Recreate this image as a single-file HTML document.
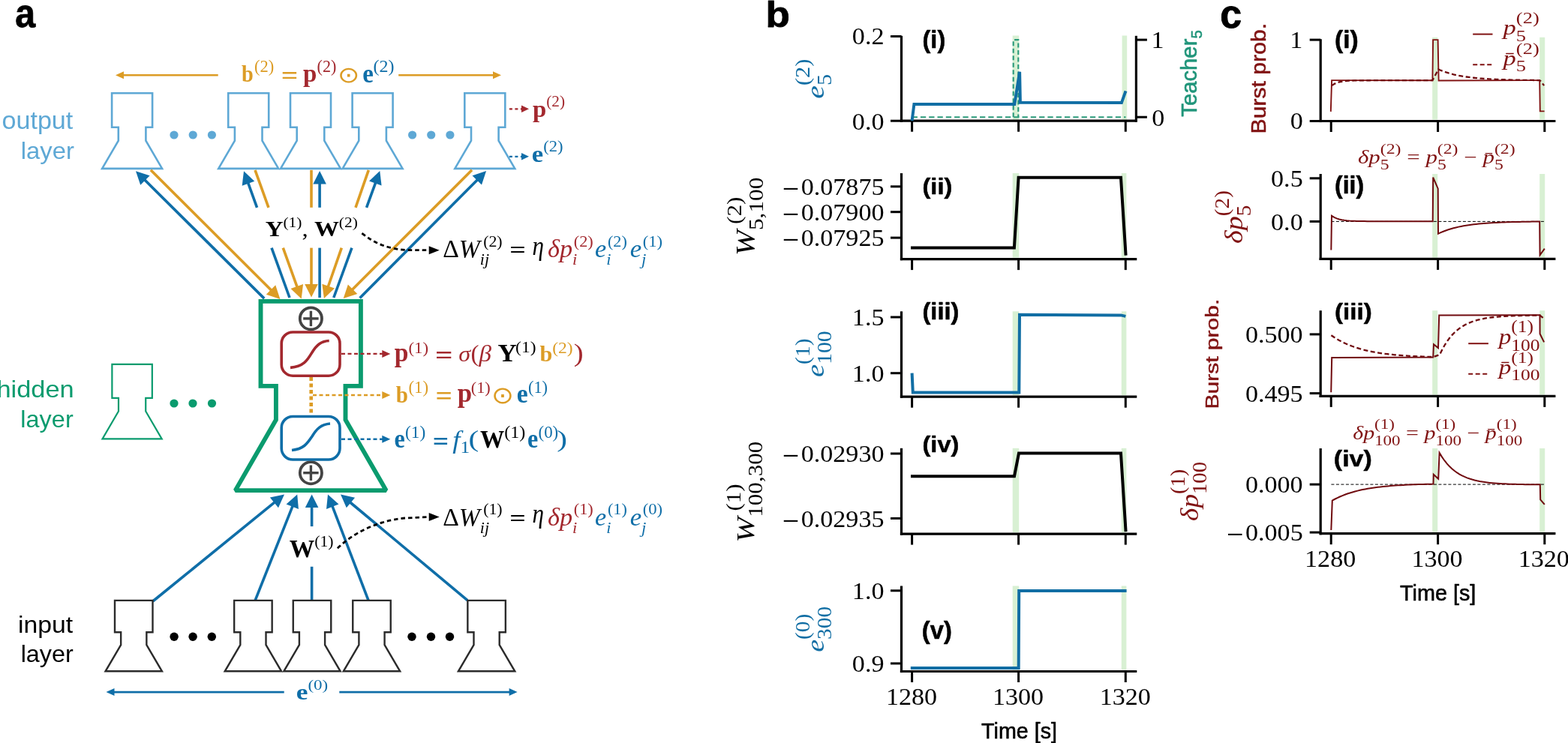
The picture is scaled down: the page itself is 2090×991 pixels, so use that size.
<!DOCTYPE html><html><head><meta charset="utf-8"><title>Figure</title><style>html,body{margin:0;padding:0;background:#fff;overflow:hidden}svg{display:block}</style></head><body><svg width="2090" height="991" viewBox="0 0 2090 991"><rect width="2090" height="991" fill="#fff"/><line x1="290.7" y1="100.2" x2="163" y2="100.2" stroke="#DC9C25" stroke-width="2.6"/><path d="M154.00,100.20 L165.00,95.20 L165.00,105.20 Z" fill="#DC9C25"/><line x1="531.2" y1="100.3" x2="659" y2="100.3" stroke="#DC9C25" stroke-width="2.6"/><path d="M668.00,100.30 L657.00,105.30 L657.00,95.30 Z" fill="#DC9C25"/><path d="M149.10,124.30 L203.10,124.30 L203.10,169.80 L194.40,169.80 L194.40,187.60 L216.10,224.90 L136.10,224.90 L157.80,187.60 L157.80,169.80 L149.10,169.80 Z" fill="none" stroke="#5EA8D5" stroke-width="2.6" stroke-linejoin="miter" stroke-miterlimit="4"/><path d="M304.20,124.30 L358.20,124.30 L358.20,169.80 L349.50,169.80 L349.50,187.60 L371.20,224.90 L291.20,224.90 L312.90,187.60 L312.90,169.80 L304.20,169.80 Z" fill="none" stroke="#5EA8D5" stroke-width="2.6" stroke-linejoin="miter" stroke-miterlimit="4"/><path d="M387.00,124.30 L441.00,124.30 L441.00,169.80 L432.30,169.80 L432.30,187.60 L454.00,224.90 L374.00,224.90 L395.70,187.60 L395.70,169.80 L387.00,169.80 Z" fill="none" stroke="#5EA8D5" stroke-width="2.6" stroke-linejoin="miter" stroke-miterlimit="4"/><path d="M469.60,124.30 L523.60,124.30 L523.60,169.80 L514.90,169.80 L514.90,187.60 L536.60,224.90 L456.60,224.90 L478.30,187.60 L478.30,169.80 L469.60,169.80 Z" fill="none" stroke="#5EA8D5" stroke-width="2.6" stroke-linejoin="miter" stroke-miterlimit="4"/><path d="M619.30,124.30 L673.30,124.30 L673.30,169.80 L664.60,169.80 L664.60,187.60 L686.30,224.90 L606.30,224.90 L628.00,187.60 L628.00,169.80 L619.30,169.80 Z" fill="none" stroke="#5EA8D5" stroke-width="2.6" stroke-linejoin="miter" stroke-miterlimit="4"/><circle cx="232" cy="180" r="5.6" fill="#5EA8D5"/><circle cx="257.2" cy="180" r="5.6" fill="#5EA8D5"/><circle cx="282.4" cy="180" r="5.6" fill="#5EA8D5"/><circle cx="549.6" cy="180" r="5.6" fill="#5EA8D5"/><circle cx="574.7" cy="180" r="5.6" fill="#5EA8D5"/><circle cx="599.9" cy="180" r="5.6" fill="#5EA8D5"/><line x1="678.9" y1="145.3" x2="696" y2="145.3" stroke="#A3282E" stroke-width="2.2" stroke-dasharray="4 3.5"/><path d="M705.00,145.30 L695.00,150.00 L695.00,140.60 Z" fill="#A3282E"/><line x1="678.9" y1="208.8" x2="696" y2="208.8" stroke="#0F6EA8" stroke-width="2.2" stroke-dasharray="4 3.5"/><path d="M705.00,208.80 L695.00,213.50 L695.00,204.10 Z" fill="#0F6EA8"/><line x1="352.20" y1="398.10" x2="189.70" y2="236.83" stroke="#0F6EA8" stroke-width="3.6"/><path d="M181.00,228.20 L199.62,234.28 L187.22,246.77 Z" fill="#0F6EA8"/><line x1="386.00" y1="397.00" x2="362.00" y2="330.60" stroke="#0F6EA8" stroke-width="3.6"/><line x1="342.56" y1="276.80" x2="329.16" y2="239.72" stroke="#0F6EA8" stroke-width="3.6"/><path d="M325.00,228.20 L339.22,241.67 L322.67,247.65 Z" fill="#0F6EA8"/><line x1="426.10" y1="397.00" x2="426.10" y2="330.60" stroke="#0F6EA8" stroke-width="3.6"/><line x1="426.10" y1="276.80" x2="426.10" y2="240.25" stroke="#0F6EA8" stroke-width="3.6"/><path d="M426.10,228.00 L434.90,245.50 L417.30,245.50 Z" fill="#0F6EA8"/><line x1="444.80" y1="397.00" x2="468.96" y2="330.60" stroke="#0F6EA8" stroke-width="3.6"/><line x1="488.54" y1="276.80" x2="502.11" y2="239.51" stroke="#0F6EA8" stroke-width="3.6"/><path d="M506.30,228.00 L508.59,247.45 L492.05,241.44 Z" fill="#0F6EA8"/><line x1="479.60" y1="397.40" x2="639.46" y2="236.69" stroke="#0F6EA8" stroke-width="3.6"/><path d="M648.10,228.00 L642.00,246.61 L629.52,234.20 Z" fill="#0F6EA8"/><line x1="200.90" y1="226.80" x2="364.73" y2="390.25" stroke="#DC9C25" stroke-width="3.6"/><path d="M373.40,398.90 L354.80,392.77 L367.23,380.31 Z" fill="#DC9C25"/><line x1="340.00" y1="226.80" x2="357.97" y2="276.80" stroke="#DC9C25" stroke-width="3.6"/><line x1="377.30" y1="330.60" x2="397.56" y2="386.97" stroke="#DC9C25" stroke-width="3.6"/><path d="M401.70,398.50 L387.50,385.01 L404.06,379.06 Z" fill="#DC9C25"/><line x1="415.00" y1="226.80" x2="415.00" y2="276.80" stroke="#DC9C25" stroke-width="3.6"/><line x1="415.00" y1="330.60" x2="415.00" y2="384.15" stroke="#DC9C25" stroke-width="3.6"/><path d="M415.00,396.40 L406.20,378.90 L423.80,378.90 Z" fill="#DC9C25"/><line x1="491.30" y1="226.80" x2="473.96" y2="276.80" stroke="#DC9C25" stroke-width="3.6"/><line x1="455.31" y1="330.60" x2="435.91" y2="386.53" stroke="#DC9C25" stroke-width="3.6"/><path d="M431.90,398.10 L429.32,378.68 L445.95,384.45 Z" fill="#DC9C25"/><line x1="629.00" y1="226.80" x2="466.36" y2="389.44" stroke="#DC9C25" stroke-width="3.6"/><path d="M457.70,398.10 L463.85,379.50 L476.30,391.95 Z" fill="#DC9C25"/><path d="M482.4,311.1 C500,325 515,331 540,333.5 L573,333.7" fill="none" stroke="#000" stroke-width="2.8" stroke-dasharray="5.5 4"/><path d="M585.70,333.70 L571.70,339.20 L571.70,328.20 Z" fill="#000"/><path d="M347.50,401.90 L480.90,401.90 L480.90,514.90 L460.50,514.90 L460.50,560.00 L514.70,654.10 L313.70,654.10 L367.90,560.00 L367.90,514.90 L347.50,514.90 Z" fill="none" stroke="#0A9B6E" stroke-width="5.9" stroke-linejoin="miter" stroke-miterlimit="1.6"/><circle cx="414.4" cy="424.9" r="14.6" fill="#fff" stroke="#444" stroke-width="3.8"/><line x1="404.2" y1="424.9" x2="424.6" y2="424.9" stroke="#444" stroke-width="3.4"/><line x1="414.4" y1="414.7" x2="414.4" y2="435.09999999999997" stroke="#444" stroke-width="3.4"/><circle cx="414.4" cy="630.7" r="14.6" fill="#fff" stroke="#444" stroke-width="3.8"/><line x1="404.2" y1="630.7" x2="424.6" y2="630.7" stroke="#444" stroke-width="3.4"/><line x1="414.4" y1="620.5" x2="414.4" y2="640.9000000000001" stroke="#444" stroke-width="3.4"/><rect x="375.2" y="443" width="77.8" height="58.2" rx="15" fill="#fff" stroke="#A3282E" stroke-width="3.6"/><path d="M387,490.4 C405,489 410,480 416,470 C422,460 428,455 438.7,454.5" fill="none" stroke="#A3282E" stroke-width="3.6"/><rect x="375.2" y="555.5" width="77.8" height="57.5" rx="15" fill="#fff" stroke="#0F6EA8" stroke-width="3.6"/><path d="M389,600.5 C405,599 410,591 416,582 C422,572 428,566 440,565" fill="none" stroke="#0F6EA8" stroke-width="3.6"/><line x1="414.7" y1="503" x2="414.7" y2="553.5" stroke="#DC9C25" stroke-width="4.6" stroke-dasharray="5 3.5"/><line x1="455" y1="471.9" x2="510" y2="471.9" stroke="#A3282E" stroke-width="2.4" stroke-dasharray="5 3.5"/><path d="M520.30,471.90 L509.30,476.90 L509.30,466.90 Z" fill="#A3282E"/><line x1="417" y1="527" x2="510" y2="527" stroke="#DC9C25" stroke-width="2.4" stroke-dasharray="5 3.5"/><path d="M520.30,527.00 L509.30,532.00 L509.30,522.00 Z" fill="#DC9C25"/><line x1="455" y1="585.8" x2="510" y2="585.8" stroke="#0F6EA8" stroke-width="2.4" stroke-dasharray="5 3.5"/><path d="M520.30,585.80 L509.30,590.80 L509.30,580.80 Z" fill="#0F6EA8"/><path d="M149.37,485.80 L202.83,485.80 L202.83,530.85 L194.22,530.85 L194.22,548.47 L215.70,585.39 L136.50,585.39 L157.98,548.47 L157.98,530.85 L149.37,530.85 Z" fill="none" stroke="#0A9B6E" stroke-width="2.2" stroke-linejoin="miter" stroke-miterlimit="4"/><circle cx="232" cy="538" r="5.6" fill="#0A9B6E"/><circle cx="257" cy="538" r="5.6" fill="#0A9B6E"/><circle cx="282.5" cy="538" r="5.6" fill="#0A9B6E"/><line x1="203.70" y1="802.00" x2="369.50" y2="667.13" stroke="#0F6EA8" stroke-width="3.6"/><path d="M379.00,659.40 L370.98,677.27 L359.87,663.62 Z" fill="#0F6EA8"/><line x1="340.20" y1="800.60" x2="391.68" y2="670.79" stroke="#0F6EA8" stroke-width="3.6"/><path d="M396.20,659.40 L397.93,678.91 L381.57,672.42 Z" fill="#0F6EA8"/><line x1="415.60" y1="800.60" x2="415.60" y2="755.80" stroke="#0F6EA8" stroke-width="3.6"/><line x1="415.60" y1="702.10" x2="415.60" y2="671.65" stroke="#0F6EA8" stroke-width="3.6"/><path d="M415.60,659.40 L424.40,676.90 L406.80,676.90 Z" fill="#0F6EA8"/><line x1="491.00" y1="800.60" x2="441.38" y2="670.84" stroke="#0F6EA8" stroke-width="3.6"/><path d="M437.00,659.40 L451.47,672.60 L435.03,678.89 Z" fill="#0F6EA8"/><line x1="623.00" y1="800.60" x2="463.40" y2="667.25" stroke="#0F6EA8" stroke-width="3.6"/><path d="M454.00,659.40 L473.07,663.87 L461.79,677.37 Z" fill="#0F6EA8"/><path d="M449.9,731.2 C470,712 500,695 540,691 L573,689.5" fill="none" stroke="#000" stroke-width="2.8" stroke-dasharray="5.5 4"/><path d="M585.70,689.50 L571.70,695.00 L571.70,684.00 Z" fill="#000"/><path d="M153.00,800.90 L203.50,800.90 L203.50,843.30 L195.35,843.30 L195.35,860.20 L215.95,895.30 L140.55,895.30 L161.15,860.20 L161.15,843.30 L153.00,843.30 Z" fill="none" stroke="#2B2B2B" stroke-width="2.4" stroke-linejoin="miter" stroke-miterlimit="4"/><path d="M312.15,800.90 L362.65,800.90 L362.65,843.30 L354.50,843.30 L354.50,860.20 L375.10,895.30 L299.70,895.30 L320.30,860.20 L320.30,843.30 L312.15,843.30 Z" fill="none" stroke="#2B2B2B" stroke-width="2.4" stroke-linejoin="miter" stroke-miterlimit="4"/><path d="M390.75,800.90 L441.25,800.90 L441.25,843.30 L433.10,843.30 L433.10,860.20 L453.70,895.30 L378.30,895.30 L398.90,860.20 L398.90,843.30 L390.75,843.30 Z" fill="none" stroke="#2B2B2B" stroke-width="2.4" stroke-linejoin="miter" stroke-miterlimit="4"/><path d="M470.25,800.90 L520.75,800.90 L520.75,843.30 L512.60,843.30 L512.60,860.20 L533.20,895.30 L457.80,895.30 L478.40,860.20 L478.40,843.30 L470.25,843.30 Z" fill="none" stroke="#2B2B2B" stroke-width="2.4" stroke-linejoin="miter" stroke-miterlimit="4"/><path d="M623.35,800.90 L673.85,800.90 L673.85,843.30 L665.70,843.30 L665.70,860.20 L686.30,895.30 L610.90,895.30 L631.50,860.20 L631.50,843.30 L623.35,843.30 Z" fill="none" stroke="#2B2B2B" stroke-width="2.4" stroke-linejoin="miter" stroke-miterlimit="4"/><circle cx="232.1" cy="849.3" r="5.7" fill="#000"/><circle cx="257.1" cy="849.3" r="5.7" fill="#000"/><circle cx="282.3" cy="849.3" r="5.7" fill="#000"/><circle cx="549.0" cy="849.3" r="5.7" fill="#000"/><circle cx="574.5" cy="849.3" r="5.7" fill="#000"/><circle cx="599.5" cy="849.3" r="5.7" fill="#000"/><line x1="378.7" y1="923.1" x2="150" y2="923.1" stroke="#0F6EA8" stroke-width="2.6"/><path d="M141.50,923.10 L152.50,918.10 L152.50,928.10 Z" fill="#0F6EA8"/><line x1="452.3" y1="923.1" x2="680" y2="923.1" stroke="#0F6EA8" stroke-width="2.6"/><path d="M689.60,923.10 L678.60,928.10 L678.60,918.10 Z" fill="#0F6EA8"/><rect x="1349.7" y="47.5" width="8.5" height="112.1" fill="#D8F0D3"/><rect x="1495.6" y="47.5" width="6.600000000000136" height="112.1" fill="#D8F0D3"/><line x1="1201.5" y1="47.8" x2="1201.5" y2="162.79999999999998" stroke="#000" stroke-width="3.2"/><line x1="1199.9" y1="161.2" x2="1514.4" y2="161.2" stroke="#000" stroke-width="3.2"/><line x1="1187.0" y1="48.5" x2="1201.5" y2="48.5" stroke="#000" stroke-width="3.0"/><line x1="1187.0" y1="161.2" x2="1201.5" y2="161.2" stroke="#000" stroke-width="3.0"/><line x1="1215.6" y1="161.2" x2="1215.6" y2="175.7" stroke="#000" stroke-width="3.0"/><line x1="1357.6" y1="161.2" x2="1357.6" y2="175.7" stroke="#000" stroke-width="3.0"/><line x1="1500.3" y1="161.2" x2="1500.3" y2="175.7" stroke="#000" stroke-width="3.0"/><line x1="1514.4" y1="47.8" x2="1514.4" y2="162.79999999999998" stroke="#000" stroke-width="3.2"/><line x1="1514.4" y1="53.1" x2="1528.9" y2="53.1" stroke="#000" stroke-width="3.0"/><line x1="1514.4" y1="156.2" x2="1528.9" y2="156.2" stroke="#000" stroke-width="3.0"/><path d="M1350.70,156.20 L1350.70,53.10 L1357.30,53.10 L1357.30,156.20" fill="none" stroke="#2A9A7A" stroke-width="2.1" stroke-linejoin="miter" stroke-dasharray="6 3.5"/><path d="M1215.60,156.20 L1500.50,156.20" fill="none" stroke="#2A9A7A" stroke-width="2.1" stroke-linejoin="miter" stroke-dasharray="7.3 4"/><path d="M1215.60,161.00 L1218.40,139.10 L1352.30,139.10 L1359.10,95.80 L1359.90,136.80 L1494.90,137.10 L1500.50,121.40" fill="none" stroke="#116EA4" stroke-width="4.0" stroke-linejoin="miter"/><rect x="1349.7" y="231" width="8.5" height="112.5" fill="#D8F0D3"/><rect x="1494.8" y="231" width="6.600000000000136" height="112.5" fill="#D8F0D3"/><line x1="1201.5" y1="231" x2="1201.5" y2="347.20000000000005" stroke="#000" stroke-width="3.2"/><line x1="1199.9" y1="345.6" x2="1515.3" y2="345.6" stroke="#000" stroke-width="3.2"/><line x1="1187.0" y1="248.8" x2="1201.5" y2="248.8" stroke="#000" stroke-width="3.0"/><line x1="1187.0" y1="282.7" x2="1201.5" y2="282.7" stroke="#000" stroke-width="3.0"/><line x1="1187.0" y1="317.1" x2="1201.5" y2="317.1" stroke="#000" stroke-width="3.0"/><line x1="1215.6" y1="345.6" x2="1215.6" y2="360.1" stroke="#000" stroke-width="3.0"/><line x1="1357.6" y1="345.6" x2="1357.6" y2="360.1" stroke="#000" stroke-width="3.0"/><line x1="1500.3" y1="345.6" x2="1500.3" y2="360.1" stroke="#000" stroke-width="3.0"/><path d="M1214.00,330.60 L1351.90,330.60 L1357.60,236.80 L1494.00,236.80 L1500.60,340.70" fill="none" stroke="#000" stroke-width="4.0" stroke-linejoin="miter"/><rect x="1349.7" y="415.3" width="8.5" height="111.90000000000003" fill="#D8F0D3"/><rect x="1494.8" y="415.3" width="6.600000000000136" height="111.90000000000003" fill="#D8F0D3"/><line x1="1201.5" y1="415.3" x2="1201.5" y2="530.8000000000001" stroke="#000" stroke-width="3.2"/><line x1="1199.9" y1="529.2" x2="1515.3" y2="529.2" stroke="#000" stroke-width="3.2"/><line x1="1187.0" y1="423.0" x2="1201.5" y2="423.0" stroke="#000" stroke-width="3.0"/><line x1="1187.0" y1="497.7" x2="1201.5" y2="497.7" stroke="#000" stroke-width="3.0"/><line x1="1215.6" y1="529.2" x2="1215.6" y2="543.7" stroke="#000" stroke-width="3.0"/><line x1="1357.6" y1="529.2" x2="1357.6" y2="543.7" stroke="#000" stroke-width="3.0"/><line x1="1500.3" y1="529.2" x2="1500.3" y2="543.7" stroke="#000" stroke-width="3.0"/><path d="M1215.60,497.70 L1216.80,523.60 L1358.30,523.60 L1359.00,419.80 L1494.00,420.40 L1500.40,421.90" fill="none" stroke="#116EA4" stroke-width="4.0" stroke-linejoin="miter"/><rect x="1349.7" y="597.8" width="8.5" height="112.30000000000007" fill="#D8F0D3"/><rect x="1494.8" y="597.8" width="6.600000000000136" height="112.30000000000007" fill="#D8F0D3"/><line x1="1201.5" y1="597.8" x2="1201.5" y2="713.7" stroke="#000" stroke-width="3.2"/><line x1="1199.9" y1="712.1" x2="1515.3" y2="712.1" stroke="#000" stroke-width="3.2"/><line x1="1187.0" y1="605.0" x2="1201.5" y2="605.0" stroke="#000" stroke-width="3.0"/><line x1="1187.0" y1="691.4" x2="1201.5" y2="691.4" stroke="#000" stroke-width="3.0"/><line x1="1215.6" y1="712.1" x2="1215.6" y2="726.6" stroke="#000" stroke-width="3.0"/><line x1="1357.6" y1="712.1" x2="1357.6" y2="726.6" stroke="#000" stroke-width="3.0"/><line x1="1500.3" y1="712.1" x2="1500.3" y2="726.6" stroke="#000" stroke-width="3.0"/><path d="M1214.00,635.20 L1352.00,635.20 L1358.00,604.50 L1494.00,604.50 L1500.60,709.20" fill="none" stroke="#000" stroke-width="4.0" stroke-linejoin="miter"/><rect x="1349.7" y="781.5" width="8.5" height="112.0" fill="#D8F0D3"/><rect x="1494.8" y="781.5" width="6.600000000000136" height="112.0" fill="#D8F0D3"/><line x1="1201.5" y1="781.5" x2="1201.5" y2="897.1" stroke="#000" stroke-width="3.2"/><line x1="1199.9" y1="895.5" x2="1515.3" y2="895.5" stroke="#000" stroke-width="3.2"/><line x1="1187.0" y1="787.8" x2="1201.5" y2="787.8" stroke="#000" stroke-width="3.0"/><line x1="1187.0" y1="884.9" x2="1201.5" y2="884.9" stroke="#000" stroke-width="3.0"/><line x1="1215.6" y1="895.5" x2="1215.6" y2="910.0" stroke="#000" stroke-width="3.0"/><line x1="1357.6" y1="895.5" x2="1357.6" y2="910.0" stroke="#000" stroke-width="3.0"/><line x1="1500.3" y1="895.5" x2="1500.3" y2="910.0" stroke="#000" stroke-width="3.0"/><path d="M1213.80,891.00 L1357.70,891.00 L1358.20,787.90 L1501.60,787.90" fill="none" stroke="#116EA4" stroke-width="4.0" stroke-linejoin="miter"/><rect x="1909.2" y="49.8" width="7.0" height="109.7" fill="#D8F0D3"/><rect x="2052.2" y="49.8" width="7.0" height="109.7" fill="#D8F0D3"/><line x1="1760.2" y1="52.2" x2="1760.2" y2="163.1" stroke="#000" stroke-width="3.2"/><line x1="1758.6000000000001" y1="161.5" x2="2073.4" y2="161.5" stroke="#000" stroke-width="3.2"/><line x1="1745.7" y1="53.1" x2="1760.2" y2="53.1" stroke="#000" stroke-width="3.0"/><line x1="1745.7" y1="161.5" x2="1760.2" y2="161.5" stroke="#000" stroke-width="3.0"/><line x1="1774.2" y1="161.5" x2="1774.2" y2="176.0" stroke="#000" stroke-width="3.0"/><line x1="1916.6" y1="161.5" x2="1916.6" y2="176.0" stroke="#000" stroke-width="3.0"/><line x1="2058.8" y1="161.5" x2="2058.8" y2="176.0" stroke="#000" stroke-width="3.0"/><path d="M1773.80,148.90 L1775.10,107.10 L1909.40,107.30 L1910.10,53.10 L1916.60,53.10 L1917.60,107.50 L2052.20,107.10 L2052.80,148.40 L2058.60,148.40" fill="none" stroke="#801212" stroke-width="1.9" stroke-linejoin="miter"/><path d="M1775.10,114.10 L1778.46,111.95 L1781.81,110.47 L1785.17,109.45 L1788.53,108.75 L1791.89,108.27 L1795.24,107.94 L1798.60,107.71 L1801.96,107.55 L1805.32,107.44 L1808.67,107.37 L1812.03,107.31 L1815.39,107.28 L1818.75,107.25 L1822.11,107.24 L1825.46,107.23 L1828.82,107.22 L1832.18,107.21 L1835.54,107.21 L1838.89,107.21 L1842.25,107.20 L1845.61,107.20 L1848.96,107.20 L1852.32,107.20 L1855.68,107.20 L1859.04,107.20 L1862.39,107.20 L1865.75,107.20 L1869.11,107.20 L1872.47,107.20 L1875.83,107.20 L1879.18,107.20 L1882.54,107.20 L1885.90,107.20 L1889.26,107.20 L1892.61,107.20 L1895.97,107.20 L1899.33,107.20 L1902.69,107.20 L1906.04,107.20 L1909.40,107.20 L1917.30,92.50 L1920.67,93.94 L1924.04,95.24 L1927.42,96.41 L1930.79,97.47 L1934.16,98.42 L1937.53,99.28 L1940.91,100.06 L1944.28,100.77 L1947.65,101.40 L1951.02,101.97 L1954.40,102.49 L1957.77,102.96 L1961.14,103.38 L1964.51,103.76 L1967.89,104.10 L1971.26,104.42 L1974.63,104.70 L1978.00,104.95 L1981.38,105.18 L1984.75,105.38 L1988.12,105.57 L1991.49,105.74 L1994.87,105.89 L1998.24,106.03 L2001.61,106.15 L2004.98,106.26 L2008.36,106.36 L2011.73,106.45 L2015.10,106.54 L2018.47,106.61 L2021.85,106.68 L2025.22,106.74 L2028.59,106.79 L2031.96,106.84 L2035.34,106.89 L2038.71,106.93 L2042.08,106.96 L2045.45,107.00 L2048.83,107.03 L2052.20,107.05 L2053.90,108.50 L2058.10,114.10" fill="none" stroke="#700B0F" stroke-width="2.3" stroke-linejoin="miter" stroke-dasharray="6 3.5"/><line x1="1963.2" y1="45.6" x2="1989.5" y2="45.6" stroke="#801212" stroke-width="2"/><line x1="1963.2" y1="86.3" x2="1989.5" y2="86.3" stroke="#801212" stroke-width="2" stroke-dasharray="6 3.5"/><rect x="1909.2" y="232" width="7.0" height="111.5" fill="#D8F0D3"/><rect x="2052.2" y="232" width="7.0" height="111.5" fill="#D8F0D3"/><line x1="1760.2" y1="232" x2="1760.2" y2="347.0" stroke="#000" stroke-width="3.2"/><line x1="1758.6000000000001" y1="345.4" x2="2073.4" y2="345.4" stroke="#000" stroke-width="3.2"/><line x1="1745.7" y1="237.8" x2="1760.2" y2="237.8" stroke="#000" stroke-width="3.0"/><line x1="1745.7" y1="295.4" x2="1760.2" y2="295.4" stroke="#000" stroke-width="3.0"/><line x1="1774.2" y1="345.4" x2="1774.2" y2="359.9" stroke="#000" stroke-width="3.0"/><line x1="1916.6" y1="345.4" x2="1916.6" y2="359.9" stroke="#000" stroke-width="3.0"/><line x1="2058.8" y1="345.4" x2="2058.8" y2="359.9" stroke="#000" stroke-width="3.0"/><line x1="1774.4" y1="295.4" x2="2059" y2="295.4" stroke="#000" stroke-width="1" stroke-dasharray="4 2.5"/><path d="M1774.30,333.40 L1775.00,287.80 L1778.37,289.92 L1781.73,291.43 L1785.10,292.51 L1788.47,293.28 L1791.84,293.83 L1795.20,294.22 L1798.57,294.50 L1801.94,294.70 L1805.31,294.84 L1808.67,294.94 L1812.04,295.02 L1815.41,295.07 L1818.78,295.11 L1822.14,295.13 L1825.51,295.15 L1828.88,295.17 L1832.25,295.18 L1835.62,295.18 L1838.98,295.19 L1842.35,295.19 L1845.72,295.19 L1849.09,295.20 L1852.45,295.20 L1855.82,295.20 L1859.19,295.20 L1862.56,295.20 L1865.92,295.20 L1869.29,295.20 L1872.66,295.20 L1876.03,295.20 L1879.39,295.20 L1882.76,295.20 L1886.13,295.20 L1889.50,295.20 L1892.86,295.20 L1896.23,295.20 L1899.60,295.20 L1902.97,295.20 L1906.33,295.20 L1909.70,295.20 L1910.20,236.60 L1916.70,251.70 L1917.00,311.70 L1920.38,310.14 L1923.76,308.72 L1927.14,307.45 L1930.52,306.29 L1933.90,305.24 L1937.28,304.29 L1940.66,303.43 L1944.04,302.65 L1947.42,301.94 L1950.80,301.31 L1954.18,300.73 L1957.56,300.20 L1960.94,299.73 L1964.32,299.30 L1967.70,298.91 L1971.08,298.56 L1974.46,298.24 L1977.84,297.96 L1981.22,297.70 L1984.60,297.46 L1987.98,297.25 L1991.36,297.05 L1994.74,296.88 L1998.12,296.72 L2001.50,296.57 L2004.88,296.44 L2008.26,296.33 L2011.64,296.22 L2015.02,296.12 L2018.40,296.04 L2021.78,295.96 L2025.16,295.89 L2028.54,295.82 L2031.92,295.76 L2035.30,295.71 L2038.68,295.66 L2042.06,295.62 L2045.44,295.58 L2048.82,295.54 L2052.20,295.51 L2052.60,340.30 L2058.80,331.70" fill="none" stroke="#700B0F" stroke-width="2.0" stroke-linejoin="miter"/><rect x="1909.2" y="414.2" width="7.0" height="112.30000000000001" fill="#D8F0D3"/><rect x="2052.2" y="414.2" width="7.0" height="112.30000000000001" fill="#D8F0D3"/><line x1="1760.2" y1="414.2" x2="1760.2" y2="530.0" stroke="#000" stroke-width="3.2"/><line x1="1758.6000000000001" y1="528.4" x2="2073.4" y2="528.4" stroke="#000" stroke-width="3.2"/><line x1="1745.7" y1="445.9" x2="1760.2" y2="445.9" stroke="#000" stroke-width="3.0"/><line x1="1745.7" y1="524.6" x2="1760.2" y2="524.6" stroke="#000" stroke-width="3.0"/><line x1="1774.2" y1="528.4" x2="1774.2" y2="542.9" stroke="#000" stroke-width="3.0"/><line x1="1916.6" y1="528.4" x2="1916.6" y2="542.9" stroke="#000" stroke-width="3.0"/><line x1="2058.8" y1="528.4" x2="2058.8" y2="542.9" stroke="#000" stroke-width="3.0"/><path d="M1774.20,523.30 L1775.20,476.90 L1910.20,476.60 L1911.00,459.20 L1917.00,464.10 L1918.20,420.50 L2052.50,420.30 L2052.60,445.30 L2058.10,456.40" fill="none" stroke="#700B0F" stroke-width="2.0" stroke-linejoin="miter"/><path d="M1774.40,447.20 L1777.80,449.54 L1781.19,451.69 L1784.59,453.68 L1787.98,455.52 L1791.38,457.21 L1794.77,458.77 L1798.17,460.21 L1801.56,461.53 L1804.96,462.76 L1808.35,463.89 L1811.75,464.93 L1815.14,465.89 L1818.54,466.78 L1821.93,467.59 L1825.33,468.35 L1828.72,469.04 L1832.12,469.68 L1835.51,470.27 L1838.90,470.82 L1842.30,471.32 L1845.70,471.79 L1849.09,472.22 L1852.49,472.61 L1855.88,472.97 L1859.28,473.31 L1862.67,473.62 L1866.07,473.91 L1869.46,474.17 L1872.86,474.41 L1876.25,474.64 L1879.64,474.84 L1883.04,475.03 L1886.43,475.21 L1889.83,475.37 L1893.23,475.52 L1896.62,475.66 L1900.02,475.79 L1903.41,475.91 L1906.81,476.01 L1910.20,476.11 L1919.00,473.00 L1922.34,466.17 L1925.67,460.23 L1929.01,455.06 L1932.35,450.56 L1935.69,446.64 L1939.03,443.24 L1942.36,440.27 L1945.70,437.69 L1949.04,435.45 L1952.38,433.49 L1955.71,431.79 L1959.05,430.31 L1962.39,429.03 L1965.72,427.91 L1969.06,426.93 L1972.40,426.08 L1975.74,425.35 L1979.08,424.70 L1982.41,424.15 L1985.75,423.66 L1989.09,423.24 L1992.42,422.87 L1995.76,422.55 L1999.10,422.27 L2002.44,422.03 L2005.78,421.81 L2009.11,421.63 L2012.45,421.47 L2015.79,421.33 L2019.12,421.21 L2022.46,421.11 L2025.80,421.01 L2029.14,420.93 L2032.47,420.87 L2035.81,420.80 L2039.15,420.75 L2042.49,420.71 L2045.83,420.67 L2049.16,420.63 L2052.50,420.60 L2057.50,424.50" fill="none" stroke="#700B0F" stroke-width="2.3" stroke-linejoin="miter" stroke-dasharray="6 3.5"/><line x1="1957.2" y1="458.2" x2="1983.9" y2="458.2" stroke="#801212" stroke-width="2"/><line x1="1957.2" y1="498.8" x2="1983.9" y2="498.8" stroke="#801212" stroke-width="2" stroke-dasharray="6 3.5"/><rect x="1909.2" y="598" width="7.0" height="111.79999999999995" fill="#D8F0D3"/><rect x="2052.2" y="598" width="7.0" height="111.79999999999995" fill="#D8F0D3"/><line x1="1760.2" y1="598" x2="1760.2" y2="713.3000000000001" stroke="#000" stroke-width="3.2"/><line x1="1758.6000000000001" y1="711.7" x2="2073.4" y2="711.7" stroke="#000" stroke-width="3.2"/><line x1="1745.7" y1="646.1" x2="1760.2" y2="646.1" stroke="#000" stroke-width="3.0"/><line x1="1745.7" y1="710.1" x2="1760.2" y2="710.1" stroke="#000" stroke-width="3.0"/><line x1="1774.2" y1="711.7" x2="1774.2" y2="726.2" stroke="#000" stroke-width="3.0"/><line x1="1916.6" y1="711.7" x2="1916.6" y2="726.2" stroke="#000" stroke-width="3.0"/><line x1="2058.8" y1="711.7" x2="2058.8" y2="726.2" stroke="#000" stroke-width="3.0"/><line x1="1774.4" y1="646.1" x2="2059" y2="646.1" stroke="#000" stroke-width="1" stroke-dasharray="4 2.5"/><path d="M1774.30,707.00 L1775.80,667.60 L1779.17,665.76 L1782.53,664.07 L1785.90,662.51 L1789.27,661.08 L1792.64,659.77 L1796.00,658.56 L1799.37,657.45 L1802.74,656.43 L1806.11,655.49 L1809.47,654.62 L1812.84,653.83 L1816.21,653.10 L1819.58,652.43 L1822.94,651.82 L1826.31,651.25 L1829.68,650.73 L1833.05,650.25 L1836.41,649.81 L1839.78,649.41 L1843.15,649.03 L1846.52,648.69 L1849.88,648.38 L1853.25,648.09 L1856.62,647.82 L1859.99,647.58 L1863.36,647.35 L1866.72,647.15 L1870.09,646.96 L1873.46,646.78 L1876.83,646.62 L1880.19,646.48 L1883.56,646.34 L1886.93,646.22 L1890.30,646.10 L1893.66,646.00 L1897.03,645.90 L1900.40,645.81 L1903.77,645.73 L1907.13,645.66 L1910.50,645.59 L1910.80,632.70 L1917.20,638.70 L1918.60,603.80 L1921.95,609.37 L1925.31,614.21 L1928.66,618.43 L1932.02,622.09 L1935.38,625.27 L1938.73,628.04 L1942.09,630.45 L1945.44,632.54 L1948.80,634.37 L1952.15,635.95 L1955.50,637.32 L1958.86,638.52 L1962.21,639.56 L1965.57,640.47 L1968.92,641.25 L1972.28,641.94 L1975.63,642.53 L1978.99,643.05 L1982.35,643.50 L1985.70,643.89 L1989.06,644.23 L1992.41,644.53 L1995.77,644.79 L1999.12,645.01 L2002.48,645.20 L2005.83,645.37 L2009.19,645.52 L2012.54,645.65 L2015.90,645.76 L2019.25,645.86 L2022.61,645.94 L2025.96,646.01 L2029.32,646.08 L2032.67,646.13 L2036.03,646.18 L2039.38,646.22 L2042.74,646.26 L2046.09,646.29 L2049.45,646.32 L2052.80,646.34 L2053.20,666.30 L2058.80,672.80" fill="none" stroke="#700B0F" stroke-width="2.0" stroke-linejoin="miter"/><text x="0" y="0" transform="matrix(1.60625 0 0 1.71875 20.194 36.300)" font-family="&quot;Liberation Sans&quot;, sans-serif" font-size="30" font-weight="bold" font-style="normal" fill="#000" stroke="#000" stroke-width="0.5" stroke-linejoin="round" xml:space="preserve">a</text><text x="0" y="0" transform="matrix(0.94375 0 0 1.07143 321.900 109.100)" font-family="&quot;Liberation Serif&quot;, serif" font-size="30" font-weight="bold" font-style="normal" fill="#DC9C25" xml:space="preserve">b</text><text x="0" y="0" transform="matrix(0.75152 0 0 0.74231 338.948 96.446)" font-family="&quot;Liberation Serif&quot;, serif" font-size="30" font-weight="normal" font-style="normal" fill="#DC9C25" xml:space="preserve">(2)</text><text x="0" y="0" transform="matrix(1.32000 0 0 1.10000 374.680 111.900)" font-family="&quot;Liberation Serif&quot;, serif" font-size="30" font-weight="bold" font-style="normal" fill="#DC9C25" xml:space="preserve">=</text><text x="0" y="0" transform="matrix(1.10000 0 0 1.15500 404.100 108.770)" font-family="&quot;Liberation Serif&quot;, serif" font-size="30" font-weight="bold" font-style="normal" fill="#A3282E" xml:space="preserve">p</text><text x="0" y="0" transform="matrix(0.73636 0 0 0.74231 422.564 96.446)" font-family="&quot;Liberation Serif&quot;, serif" font-size="30" font-weight="normal" font-style="normal" fill="#A3282E" xml:space="preserve">(2)</text><text x="0" y="0" transform="matrix(1.15789 0 0 0.99000 449.526 110.310)" font-family="&quot;Liberation Serif&quot;, serif" font-size="30" font-weight="normal" font-style="normal" fill="#DC9C25" xml:space="preserve">⊙</text><text x="0" y="0" transform="matrix(1.10000 0 0 1.22143 483.300 109.700)" font-family="&quot;Liberation Serif&quot;, serif" font-size="30" font-weight="bold" font-style="normal" fill="#0F6EA8" xml:space="preserve">e</text><text x="0" y="0" transform="matrix(0.80000 0 0 0.74231 497.400 96.446)" font-family="&quot;Liberation Serif&quot;, serif" font-size="30" font-weight="normal" font-style="normal" fill="#0F6EA8" xml:space="preserve">(2)</text><text x="0" y="0" transform="matrix(1.13780 0 0 1.12800 2.462 171.932)" font-family="&quot;Liberation Sans&quot;, sans-serif" font-size="30" font-weight="normal" font-style="normal" fill="#5EA8D5" xml:space="preserve">output</text><text x="0" y="0" transform="matrix(1.09355 0 0 1.03929 27.713 211.664)" font-family="&quot;Liberation Sans&quot;, sans-serif" font-size="30" font-weight="normal" font-style="normal" fill="#5EA8D5" xml:space="preserve">layer</text><text x="0" y="0" transform="matrix(1.09487 0 0 1.05937 710.000 155.844)" font-family="&quot;Liberation Serif&quot;, serif" font-size="30" font-weight="normal" font-style="normal" fill="#A3282E" xml:space="preserve"><tspan font-weight="bold">p</tspan><tspan font-size="19.5" dy="-13">(2)</tspan></text><text x="0" y="0" transform="matrix(1.15882 0 0 1.06538 708.841 216.000)" font-family="&quot;Liberation Serif&quot;, serif" font-size="30" font-weight="normal" font-style="normal" fill="#0F6EA8" xml:space="preserve"><tspan font-weight="bold">e</tspan><tspan font-size="19.5" dy="-13">(2)</tspan></text><text x="0" y="0" transform="matrix(1.09820 0 0 0.95333 353.700 315.287)" font-family="&quot;Liberation Serif&quot;, serif" font-size="30" font-weight="normal" font-style="normal" fill="#000" xml:space="preserve"><tspan font-weight="bold">Y</tspan><tspan font-size="19.5" dy="-13">(1)</tspan><tspan dy="13">, </tspan><tspan font-weight="bold">W</tspan><tspan font-size="19.5" dy="-13">(2)</tspan></text><text x="0" y="0" transform="matrix(1.12174 0 0 1.11282 590.178 343.433)" font-family="&quot;Liberation Serif&quot;, serif" font-size="30" font-weight="normal" font-style="normal" fill="#000" xml:space="preserve"><tspan>Δ</tspan><tspan font-style="italic">W</tspan><tspan font-size="19.5" font-style="italic" dy="9">ij</tspan><tspan font-size="19.5" dx="-7" dy="-22">(2)</tspan></text><text x="0" y="0" transform="matrix(1.26667 0 0 0.98750 679.233 343.325)" font-family="&quot;Liberation Serif&quot;, serif" font-size="30" font-weight="bold" font-style="normal" fill="#000" xml:space="preserve">=</text><text x="0" y="0" transform="matrix(1.03846 0 0 1.18000 709.462 339.720)" font-family="&quot;Liberation Serif&quot;, serif" font-size="30" font-weight="normal" font-style="italic" fill="#000" xml:space="preserve">η</text><text x="0" y="0" transform="matrix(1.14510 0 0 1.10571 729.955 343.249)" font-family="&quot;Liberation Serif&quot;, serif" font-size="30" font-weight="normal" font-style="normal" fill="#A3282E" xml:space="preserve"><tspan font-style="italic">δp</tspan><tspan font-size="19.5" font-style="italic" dy="9">i</tspan><tspan font-size="19.5" dx="-4" dy="-22">(2)</tspan></text><text x="0" y="0" transform="matrix(1.14167 0 0 1.10571 793.058 343.249)" font-family="&quot;Liberation Serif&quot;, serif" font-size="30" font-weight="normal" font-style="normal" fill="#0F6EA8" xml:space="preserve"><tspan font-style="italic">e</tspan><tspan font-size="19.5" font-style="italic" dy="9">i</tspan><tspan font-size="19.5" dx="-4" dy="-22">(2)</tspan></text><text x="0" y="0" transform="matrix(1.16111 0 0 1.11282 839.639 343.433)" font-family="&quot;Liberation Serif&quot;, serif" font-size="30" font-weight="normal" font-style="normal" fill="#0F6EA8" xml:space="preserve"><tspan font-style="italic">e</tspan><tspan font-size="19.5" font-style="italic" dy="9">j</tspan><tspan font-size="19.5" dx="-4" dy="-22">(1)</tspan></text><text x="0" y="0" transform="matrix(1.12174 0 0 1.11282 590.178 700.833)" font-family="&quot;Liberation Serif&quot;, serif" font-size="30" font-weight="normal" font-style="normal" fill="#000" xml:space="preserve"><tspan>Δ</tspan><tspan font-style="italic">W</tspan><tspan font-size="19.5" font-style="italic" dy="9">ij</tspan><tspan font-size="19.5" dx="-7" dy="-22">(1)</tspan></text><text x="0" y="0" transform="matrix(1.26667 0 0 0.98750 679.233 700.725)" font-family="&quot;Liberation Serif&quot;, serif" font-size="30" font-weight="bold" font-style="normal" fill="#000" xml:space="preserve">=</text><text x="0" y="0" transform="matrix(1.03846 0 0 1.18000 709.462 697.120)" font-family="&quot;Liberation Serif&quot;, serif" font-size="30" font-weight="normal" font-style="italic" fill="#000" xml:space="preserve">η</text><text x="0" y="0" transform="matrix(1.14510 0 0 1.10571 729.955 700.649)" font-family="&quot;Liberation Serif&quot;, serif" font-size="30" font-weight="normal" font-style="normal" fill="#A3282E" xml:space="preserve"><tspan font-style="italic">δp</tspan><tspan font-size="19.5" font-style="italic" dy="9">i</tspan><tspan font-size="19.5" dx="-4" dy="-22">(1)</tspan></text><text x="0" y="0" transform="matrix(1.14167 0 0 1.10571 793.058 700.649)" font-family="&quot;Liberation Serif&quot;, serif" font-size="30" font-weight="normal" font-style="normal" fill="#0F6EA8" xml:space="preserve"><tspan font-style="italic">e</tspan><tspan font-size="19.5" font-style="italic" dy="9">i</tspan><tspan font-size="19.5" dx="-4" dy="-22">(1)</tspan></text><text x="0" y="0" transform="matrix(1.16111 0 0 1.11282 839.639 700.833)" font-family="&quot;Liberation Serif&quot;, serif" font-size="30" font-weight="normal" font-style="normal" fill="#0F6EA8" xml:space="preserve"><tspan font-style="italic">e</tspan><tspan font-size="19.5" font-style="italic" dy="9">j</tspan><tspan font-size="19.5" dx="-4" dy="-22">(0)</tspan></text><text x="0" y="0" transform="matrix(1.12000 0 0 1.19500 525.800 481.630)" font-family="&quot;Liberation Serif&quot;, serif" font-size="30" font-weight="bold" font-style="normal" fill="#A3282E" xml:space="preserve">p</text><text x="0" y="0" transform="matrix(0.76364 0 0 0.66923 544.436 470.585)" font-family="&quot;Liberation Serif&quot;, serif" font-size="30" font-weight="normal" font-style="normal" fill="#A3282E" xml:space="preserve">(1)</text><text x="0" y="0" transform="matrix(1.37857 0 0 1.13750 580.021 485.325)" font-family="&quot;Liberation Serif&quot;, serif" font-size="30" font-weight="bold" font-style="normal" fill="#A3282E" xml:space="preserve">=</text><text x="0" y="0" transform="matrix(1.07333 0 0 0.99333 611.327 482.400)" font-family="&quot;Liberation Serif&quot;, serif" font-size="30" font-weight="normal" font-style="italic" fill="#A3282E" xml:space="preserve">σ</text><text x="0" y="0" transform="matrix(1.10417 0 0 1.07407 627.396 482.356)" font-family="&quot;Liberation Serif&quot;, serif" font-size="30" font-weight="normal" font-style="normal" fill="#A3282E" xml:space="preserve">(<tspan font-style="italic">β</tspan></text><text x="0" y="0" transform="matrix(1.16667 0 0 1.12105 663.400 481.700)" font-family="&quot;Liberation Serif&quot;, serif" font-size="30" font-weight="bold" font-style="normal" fill="#000" xml:space="preserve">Y</text><text x="0" y="0" transform="matrix(0.78485 0 0 0.69615 687.115 470.423)" font-family="&quot;Liberation Serif&quot;, serif" font-size="30" font-weight="normal" font-style="normal" fill="#000" xml:space="preserve">(1)</text><text x="0" y="0" transform="matrix(1.00625 0 0 1.01429 719.600 481.700)" font-family="&quot;Liberation Serif&quot;, serif" font-size="30" font-weight="bold" font-style="normal" fill="#DC9C25" xml:space="preserve">b</text><text x="0" y="0" transform="matrix(0.78485 0 0 0.66923 736.215 470.585)" font-family="&quot;Liberation Serif&quot;, serif" font-size="30" font-weight="normal" font-style="normal" fill="#DC9C25" xml:space="preserve">(2)</text><text x="0" y="0" transform="matrix(1.28750 0 0 1.11538 764.812 482.108)" font-family="&quot;Liberation Serif&quot;, serif" font-size="30" font-weight="normal" font-style="normal" fill="#A3282E" xml:space="preserve">)</text><text x="0" y="0" transform="matrix(0.96875 0 0 1.07619 527.800 536.600)" font-family="&quot;Liberation Serif&quot;, serif" font-size="30" font-weight="bold" font-style="normal" fill="#DC9C25" xml:space="preserve">b</text><text x="0" y="0" transform="matrix(0.76364 0 0 0.74615 544.436 523.823)" font-family="&quot;Liberation Serif&quot;, serif" font-size="30" font-weight="normal" font-style="normal" fill="#DC9C25" xml:space="preserve">(1)</text><text x="0" y="0" transform="matrix(1.31333 0 0 1.21250 580.387 540.075)" font-family="&quot;Liberation Serif&quot;, serif" font-size="30" font-weight="bold" font-style="normal" fill="#DC9C25" xml:space="preserve">=</text><text x="0" y="0" transform="matrix(1.16000 0 0 1.16000 609.800 536.140)" font-family="&quot;Liberation Serif&quot;, serif" font-size="30" font-weight="bold" font-style="normal" fill="#A3282E" xml:space="preserve">p</text><text x="0" y="0" transform="matrix(0.74545 0 0 0.69615 627.755 524.123)" font-family="&quot;Liberation Serif&quot;, serif" font-size="30" font-weight="normal" font-style="normal" fill="#A3282E" xml:space="preserve">(1)</text><text x="0" y="0" transform="matrix(1.18947 0 0 1.06500 654.632 537.535)" font-family="&quot;Liberation Serif&quot;, serif" font-size="30" font-weight="normal" font-style="normal" fill="#DC9C25" xml:space="preserve">⊙</text><text x="0" y="0" transform="matrix(1.12500 0 0 1.19286 688.775 536.600)" font-family="&quot;Liberation Serif&quot;, serif" font-size="30" font-weight="bold" font-style="normal" fill="#0F6EA8" xml:space="preserve">e</text><text x="0" y="0" transform="matrix(0.74545 0 0 0.74615 703.955 523.823)" font-family="&quot;Liberation Serif&quot;, serif" font-size="30" font-weight="normal" font-style="normal" fill="#0F6EA8" xml:space="preserve">(1)</text><text x="0" y="0" transform="matrix(1.07500 0 0 1.19286 525.425 596.600)" font-family="&quot;Liberation Serif&quot;, serif" font-size="30" font-weight="bold" font-style="normal" fill="#0F6EA8" xml:space="preserve">e</text><text x="0" y="0" transform="matrix(0.78182 0 0 0.74615 539.918 583.823)" font-family="&quot;Liberation Serif&quot;, serif" font-size="30" font-weight="normal" font-style="normal" fill="#0F6EA8" xml:space="preserve">(1)</text><text x="0" y="0" transform="matrix(1.25333 0 0 1.13750 576.847 599.625)" font-family="&quot;Liberation Serif&quot;, serif" font-size="30" font-weight="bold" font-style="normal" fill="#0F6EA8" xml:space="preserve">=</text><text x="0" y="0" transform="matrix(1.21765 0 0 1.10000 603.300 597.800)" font-family="&quot;Liberation Serif&quot;, serif" font-size="30" font-weight="normal" font-style="normal" fill="#0F6EA8" xml:space="preserve"><tspan font-style="italic">f</tspan><tspan font-size="21" dy="6">1</tspan></text><text x="0" y="0" transform="matrix(1.37500 0 0 1.04615 624.525 596.223)" font-family="&quot;Liberation Serif&quot;, serif" font-size="30" font-weight="normal" font-style="normal" fill="#0F6EA8" xml:space="preserve">(</text><text x="0" y="0" transform="matrix(1.07667 0 0 1.12105 640.100 596.600)" font-family="&quot;Liberation Serif&quot;, serif" font-size="30" font-weight="bold" font-style="normal" fill="#000" xml:space="preserve">W</text><text x="0" y="0" transform="matrix(0.80303 0 0 0.74615 672.297 583.823)" font-family="&quot;Liberation Serif&quot;, serif" font-size="30" font-weight="normal" font-style="normal" fill="#000" xml:space="preserve">(1)</text><text x="0" y="0" transform="matrix(1.07500 0 0 1.19286 703.025 596.600)" font-family="&quot;Liberation Serif&quot;, serif" font-size="30" font-weight="bold" font-style="normal" fill="#0F6EA8" xml:space="preserve">e</text><text x="0" y="0" transform="matrix(0.76364 0 0 0.74615 717.536 583.823)" font-family="&quot;Liberation Serif&quot;, serif" font-size="30" font-weight="normal" font-style="normal" fill="#0F6EA8" xml:space="preserve">(0)</text><text x="0" y="0" transform="matrix(1.37500 0 0 1.04615 742.125 596.223)" font-family="&quot;Liberation Serif&quot;, serif" font-size="30" font-weight="normal" font-style="normal" fill="#0F6EA8" xml:space="preserve">)</text><text x="0" y="0" transform="matrix(1.14767 0 0 1.02727 -4.595 530.200)" font-family="&quot;Liberation Sans&quot;, sans-serif" font-size="30" font-weight="normal" font-style="normal" fill="#0A9B6E" xml:space="preserve">hidden</text><text x="0" y="0" transform="matrix(1.08254 0 0 1.04643 27.335 569.821)" font-family="&quot;Liberation Sans&quot;, sans-serif" font-size="30" font-weight="normal" font-style="normal" fill="#0A9B6E" xml:space="preserve">layer</text><text x="0" y="0" transform="matrix(1.11731 0 0 1.08846 385.700 743.300)" font-family="&quot;Liberation Serif&quot;, serif" font-size="30" font-weight="normal" font-style="normal" fill="#000" xml:space="preserve"><tspan font-weight="bold">W</tspan><tspan font-size="19.5" dy="-13">(1)</tspan></text><text x="0" y="0" transform="matrix(1.12540 0 0 1.05714 23.949 843.957)" font-family="&quot;Liberation Sans&quot;, sans-serif" font-size="30" font-weight="normal" font-style="normal" fill="#000" xml:space="preserve">input</text><text x="0" y="0" transform="matrix(1.08095 0 0 1.05714 27.638 883.257)" font-family="&quot;Liberation Sans&quot;, sans-serif" font-size="30" font-weight="normal" font-style="normal" fill="#000" xml:space="preserve">layer</text><text x="0" y="0" transform="matrix(1.17941 0 0 0.99615 394.721 933.200)" font-family="&quot;Liberation Serif&quot;, serif" font-size="30" font-weight="normal" font-style="normal" fill="#0F6EA8" xml:space="preserve"><tspan font-weight="bold">e</tspan><tspan font-size="19.5" dy="-13">(0)</tspan></text><text x="0" y="0" transform="matrix(1.76667 0 0 1.61364 1020.467 36.400)" font-family="&quot;Liberation Sans&quot;, sans-serif" font-size="30" font-weight="bold" font-style="normal" fill="#000" stroke="#000" stroke-width="0.5" stroke-linejoin="round" xml:space="preserve">b</text><text x="0" y="0" transform="matrix(1.73333 0 0 1.70625 1626.167 37.100)" font-family="&quot;Liberation Sans&quot;, sans-serif" font-size="30" font-weight="bold" font-style="normal" fill="#000" stroke="#000" stroke-width="0.5" stroke-linejoin="round" xml:space="preserve">c</text><text x="0" y="0" transform="matrix(1.13714 0 0 1.02105 1135.863 172.900)" font-family="&quot;Liberation Serif&quot;, serif" font-size="30" font-weight="normal" font-style="normal" fill="#000" xml:space="preserve">0.0</text><text x="0" y="0" transform="matrix(1.13714 0 0 1.02105 1135.863 59.300)" font-family="&quot;Liberation Serif&quot;, serif" font-size="30" font-weight="normal" font-style="normal" fill="#000" xml:space="preserve">0.2</text><text x="0" y="0" transform="matrix(1.13714 0 0 1.02105 1534.589 64.000)" font-family="&quot;Liberation Serif&quot;, serif" font-size="30" font-weight="normal" font-style="normal" fill="#000" xml:space="preserve">1</text><text x="0" y="0" transform="matrix(1.13714 0 0 1.02105 1535.363 167.500)" font-family="&quot;Liberation Serif&quot;, serif" font-size="30" font-weight="normal" font-style="normal" fill="#000" xml:space="preserve">0</text><text x="0" y="0" transform="matrix(1.08462 0 0 1.12500 1229.515 63.650)" font-family="&quot;Liberation Sans&quot;, sans-serif" font-size="30" font-weight="bold" font-style="normal" fill="#000" stroke="#000" stroke-width="0.5" stroke-linejoin="round" xml:space="preserve">(i)</text><text x="0" y="0" transform="matrix(0 -1.32632 1.14146 0 1097.627 131.726)" font-family="&quot;Liberation Serif&quot;, serif" font-size="30" font-weight="normal" font-style="normal" fill="#116EA4" xml:space="preserve"><tspan font-style="italic">e</tspan><tspan font-size="23" dy="9">5</tspan><tspan font-size="23" dx="-11.50" dy="-25">(2)</tspan></text><text x="0" y="0" transform="matrix(0 -0.97542 1.00000 0 1595.400 155.700)" font-family="&quot;Liberation Sans&quot;, sans-serif" font-size="30" font-weight="normal" font-style="normal" fill="#20957A" stroke="#20957A" stroke-width="0.6" stroke-linejoin="round" xml:space="preserve">Teacher<tspan font-size="21" dy="7">5</tspan></text><text x="0" y="0" transform="matrix(1.13714 0 0 1.02105 1041.480 259.900)" font-family="&quot;Liberation Serif&quot;, serif" font-size="30" font-weight="normal" font-style="normal" fill="#000" xml:space="preserve"><tspan font-family="DejaVu Serif" font-size="26">−</tspan><tspan font-size="5"> </tspan>0.07875</text><text x="0" y="0" transform="matrix(1.13714 0 0 1.02105 1041.480 293.800)" font-family="&quot;Liberation Serif&quot;, serif" font-size="30" font-weight="normal" font-style="normal" fill="#000" xml:space="preserve"><tspan font-family="DejaVu Serif" font-size="26">−</tspan><tspan font-size="5"> </tspan>0.07900</text><text x="0" y="0" transform="matrix(1.13714 0 0 1.02105 1041.480 328.200)" font-family="&quot;Liberation Serif&quot;, serif" font-size="30" font-weight="normal" font-style="normal" fill="#000" xml:space="preserve"><tspan font-family="DejaVu Serif" font-size="26">−</tspan><tspan font-size="5"> </tspan>0.07925</text><text x="0" y="0" transform="matrix(1.08571 0 0 1.00714 1229.514 259.457)" font-family="&quot;Liberation Sans&quot;, sans-serif" font-size="30" font-weight="bold" font-style="normal" fill="#000" stroke="#000" stroke-width="0.5" stroke-linejoin="round" xml:space="preserve">(ii)</text><text x="0" y="0" transform="matrix(0 -1.35946 1.17111 0 1006.276 341.019)" font-family="&quot;Liberation Serif&quot;, serif" font-size="30" font-weight="normal" font-style="normal" fill="#000" xml:space="preserve"><tspan font-style="italic">W</tspan><tspan font-size="23" dy="9">5,100</tspan><tspan font-size="23" dx="-45.75" dy="-25">(2)</tspan></text><text x="0" y="0" transform="matrix(1.13714 0 0 1.02105 1135.863 434.100)" font-family="&quot;Liberation Serif&quot;, serif" font-size="30" font-weight="normal" font-style="normal" fill="#000" xml:space="preserve">1.5</text><text x="0" y="0" transform="matrix(1.13714 0 0 1.02105 1135.863 508.800)" font-family="&quot;Liberation Serif&quot;, serif" font-size="30" font-weight="normal" font-style="normal" fill="#000" xml:space="preserve">1.0</text><text x="0" y="0" transform="matrix(1.08605 0 0 1.05714 1229.514 426.157)" font-family="&quot;Liberation Sans&quot;, sans-serif" font-size="30" font-weight="bold" font-style="normal" fill="#000" stroke="#000" stroke-width="0.5" stroke-linejoin="round" xml:space="preserve">(iii)</text><text x="0" y="0" transform="matrix(0 -1.29348 1.14634 0 1097.783 503.093)" font-family="&quot;Liberation Serif&quot;, serif" font-size="30" font-weight="normal" font-style="normal" fill="#116EA4" xml:space="preserve"><tspan font-style="italic">e</tspan><tspan font-size="23" dy="9">100</tspan><tspan font-size="23" dx="-34.50" dy="-25">(1)</tspan></text><text x="0" y="0" transform="matrix(1.13714 0 0 1.02105 1041.480 616.100)" font-family="&quot;Liberation Serif&quot;, serif" font-size="30" font-weight="normal" font-style="normal" fill="#000" xml:space="preserve"><tspan font-family="DejaVu Serif" font-size="26">−</tspan><tspan font-size="5"> </tspan>0.02930</text><text x="0" y="0" transform="matrix(1.13714 0 0 1.02105 1041.480 702.500)" font-family="&quot;Liberation Serif&quot;, serif" font-size="30" font-weight="normal" font-style="normal" fill="#000" xml:space="preserve"><tspan font-family="DejaVu Serif" font-size="26">−</tspan><tspan font-size="5"> </tspan>0.02935</text><text x="0" y="0" transform="matrix(1.08605 0 0 0.97500 1229.514 602.950)" font-family="&quot;Liberation Sans&quot;, sans-serif" font-size="30" font-weight="bold" font-style="normal" fill="#000" stroke="#000" stroke-width="0.5" stroke-linejoin="round" xml:space="preserve">(iv)</text><text x="0" y="0" transform="matrix(0 -1.34948 1.14222 0 1005.451 723.399)" font-family="&quot;Liberation Serif&quot;, serif" font-size="30" font-weight="normal" font-style="normal" fill="#000" xml:space="preserve"><tspan font-style="italic">W</tspan><tspan font-size="23" dy="9">100,300</tspan><tspan font-size="23" dx="-68.75" dy="-25">(1)</tspan></text><text x="0" y="0" transform="matrix(1.13714 0 0 1.02105 1135.863 798.900)" font-family="&quot;Liberation Serif&quot;, serif" font-size="30" font-weight="normal" font-style="normal" fill="#000" xml:space="preserve">1.0</text><text x="0" y="0" transform="matrix(1.13714 0 0 1.02105 1135.863 896.000)" font-family="&quot;Liberation Serif&quot;, serif" font-size="30" font-weight="normal" font-style="normal" fill="#000" xml:space="preserve">0.9</text><text x="0" y="0" transform="matrix(1.09143 0 0 1.09286 1228.809 852.243)" font-family="&quot;Liberation Sans&quot;, sans-serif" font-size="30" font-weight="bold" font-style="normal" fill="#000" stroke="#000" stroke-width="0.5" stroke-linejoin="round" xml:space="preserve">(v)</text><text x="0" y="0" transform="matrix(0 -1.27391 1.14634 0 1097.783 869.874)" font-family="&quot;Liberation Serif&quot;, serif" font-size="30" font-weight="normal" font-style="normal" fill="#116EA4" xml:space="preserve"><tspan font-style="italic">e</tspan><tspan font-size="23" dy="9">300</tspan><tspan font-size="23" dx="-34.50" dy="-25">(0)</tspan></text><text x="0" y="0" transform="matrix(1.13714 0 0 1.02105 1180.949 939.800)" font-family="&quot;Liberation Serif&quot;, serif" font-size="30" font-weight="normal" font-style="normal" fill="#000" xml:space="preserve">1280</text><text x="0" y="0" transform="matrix(1.13714 0 0 1.02105 1322.949 939.800)" font-family="&quot;Liberation Serif&quot;, serif" font-size="30" font-weight="normal" font-style="normal" fill="#000" xml:space="preserve">1300</text><text x="0" y="0" transform="matrix(1.13714 0 0 1.02105 1465.649 939.800)" font-family="&quot;Liberation Serif&quot;, serif" font-size="30" font-weight="normal" font-style="normal" fill="#000" xml:space="preserve">1320</text><text x="0" y="0" transform="matrix(0.95577 0 0 0.98214 1308.100 985.007)" font-family="&quot;Liberation Sans&quot;, sans-serif" font-size="30" font-weight="normal" font-style="normal" fill="#000" stroke="#000" stroke-width="0.6" stroke-linejoin="round" xml:space="preserve">Time [s]</text><text x="0" y="0" transform="matrix(1.13714 0 0 1.02105 1719.317 64.000)" font-family="&quot;Liberation Serif&quot;, serif" font-size="30" font-weight="normal" font-style="normal" fill="#000" xml:space="preserve">1</text><text x="0" y="0" transform="matrix(1.13714 0 0 1.02105 1719.780 172.400)" font-family="&quot;Liberation Serif&quot;, serif" font-size="30" font-weight="normal" font-style="normal" fill="#000" xml:space="preserve">0</text><text x="0" y="0" transform="matrix(1.11923 0 0 1.09643 1778.981 63.821)" font-family="&quot;Liberation Sans&quot;, sans-serif" font-size="30" font-weight="bold" font-style="normal" fill="#000" stroke="#000" stroke-width="0.5" stroke-linejoin="round" xml:space="preserve">(i)</text><text x="0" y="0" transform="matrix(0 -1.00699 0.92857 0 1687.029 178.514)" font-family="&quot;Liberation Sans&quot;, sans-serif" font-size="30" font-weight="normal" font-style="normal" fill="#801212" stroke="#801212" stroke-width="0.6" stroke-linejoin="round" xml:space="preserve">Burst prob.</text><text x="0" y="0" transform="matrix(1.15116 0 0 0.92927 2003.602 46.137)" font-family="&quot;Liberation Serif&quot;, serif" font-size="30" font-weight="normal" font-style="normal" fill="#801212" xml:space="preserve"><tspan font-style="italic">p</tspan><tspan font-size="23" dy="9">5</tspan><tspan font-size="23" dx="-11.50" dy="-25">(2)</tspan></text><text x="0" y="0" transform="matrix(1.15116 0 0 0.91951 2003.602 86.624)" font-family="&quot;Liberation Serif&quot;, serif" font-size="30" font-weight="normal" font-style="normal" fill="#801212" xml:space="preserve"><tspan font-style="italic">p̄</tspan><tspan font-size="23" dy="9">5</tspan><tspan font-size="23" dx="-11.50" dy="-25">(2)</tspan></text><text x="0" y="0" transform="matrix(1.13714 0 0 1.02105 1694.063 248.900)" font-family="&quot;Liberation Serif&quot;, serif" font-size="30" font-weight="normal" font-style="normal" fill="#000" xml:space="preserve">0.5</text><text x="0" y="0" transform="matrix(1.13714 0 0 1.02105 1694.063 306.500)" font-family="&quot;Liberation Serif&quot;, serif" font-size="30" font-weight="normal" font-style="normal" fill="#000" xml:space="preserve">0.0</text><text x="0" y="0" transform="matrix(1.06571 0 0 1.08929 1779.034 258.464)" font-family="&quot;Liberation Sans&quot;, sans-serif" font-size="30" font-weight="bold" font-style="normal" fill="#000" stroke="#000" stroke-width="0.5" stroke-linejoin="round" xml:space="preserve">(ii)</text><text x="0" y="0" transform="matrix(0 -1.27037 1.14390 0 1656.305 324.970)" font-family="&quot;Liberation Serif&quot;, serif" font-size="30" font-weight="normal" font-style="normal" fill="#801212" xml:space="preserve"><tspan font-style="italic">δp</tspan><tspan font-size="23" dy="9">5</tspan><tspan font-size="23" dx="-11.50" dy="-25">(2)</tspan></text><text x="0" y="0" transform="matrix(1.03184 0 0 0.84390 1809.968 218.105)" font-family="&quot;Liberation Serif&quot;, serif" font-size="30" font-weight="normal" font-style="normal" fill="#801212" xml:space="preserve"><tspan font-style="italic">δp</tspan><tspan font-size="23" dy="9">5</tspan><tspan font-size="23" dx="-11.50" dy="-25">(2)</tspan><tspan dx="0.00" dy="16"> = </tspan><tspan font-style="italic">p</tspan><tspan font-size="23" dy="9">5</tspan><tspan font-size="23" dx="-11.50" dy="-25">(2)</tspan><tspan dx="0.00" dy="16"> − </tspan><tspan font-style="italic">p̄</tspan><tspan font-size="23" dy="9">5</tspan><tspan font-size="23" dx="-11.50" dy="-25">(2)</tspan></text><text x="0" y="0" transform="matrix(1.13714 0 0 1.02105 1659.949 457.000)" font-family="&quot;Liberation Serif&quot;, serif" font-size="30" font-weight="normal" font-style="normal" fill="#000" xml:space="preserve">0.500</text><text x="0" y="0" transform="matrix(1.13714 0 0 1.02105 1659.949 535.700)" font-family="&quot;Liberation Serif&quot;, serif" font-size="30" font-weight="normal" font-style="normal" fill="#000" xml:space="preserve">0.495</text><text x="0" y="0" transform="matrix(1.10465 0 0 0.99643 1778.995 426.021)" font-family="&quot;Liberation Sans&quot;, sans-serif" font-size="30" font-weight="bold" font-style="normal" fill="#000" stroke="#000" stroke-width="0.5" stroke-linejoin="round" xml:space="preserve">(iii)</text><text x="0" y="0" transform="matrix(0 -1.00210 0.76786 0 1623.893 545.604)" font-family="&quot;Liberation Sans&quot;, sans-serif" font-size="30" font-weight="normal" font-style="normal" fill="#801212" stroke="#801212" stroke-width="0.6" stroke-linejoin="round" xml:space="preserve">Burst prob.</text><text x="0" y="0" transform="matrix(1.10784 0 0 0.96098 1997.716 458.851)" font-family="&quot;Liberation Serif&quot;, serif" font-size="30" font-weight="normal" font-style="normal" fill="#801212" xml:space="preserve"><tspan font-style="italic">p</tspan><tspan font-size="23" dy="9">100</tspan><tspan font-size="23" dx="-34.50" dy="-25">(1)</tspan></text><text x="0" y="0" transform="matrix(1.10784 0 0 0.92439 1997.716 499.080)" font-family="&quot;Liberation Serif&quot;, serif" font-size="30" font-weight="normal" font-style="normal" fill="#801212" xml:space="preserve"><tspan font-style="italic">p̄</tspan><tspan font-size="23" dy="9">100</tspan><tspan font-size="23" dx="-34.50" dy="-25">(1)</tspan></text><text x="0" y="0" transform="matrix(1.13714 0 0 1.02105 1659.949 657.200)" font-family="&quot;Liberation Serif&quot;, serif" font-size="30" font-weight="normal" font-style="normal" fill="#000" xml:space="preserve">0.000</text><text x="0" y="0" transform="matrix(1.13714 0 0 1.02105 1633.794 721.200)" font-family="&quot;Liberation Serif&quot;, serif" font-size="30" font-weight="normal" font-style="normal" fill="#000" xml:space="preserve"><tspan font-family="DejaVu Serif" font-size="26">−</tspan><tspan font-size="5"> </tspan>0.005</text><text x="0" y="0" transform="matrix(1.13714 0 0 1.02105 1739.049 756.000)" font-family="&quot;Liberation Serif&quot;, serif" font-size="30" font-weight="normal" font-style="normal" fill="#000" xml:space="preserve">1280</text><text x="0" y="0" transform="matrix(1.13714 0 0 1.02105 1881.449 756.000)" font-family="&quot;Liberation Serif&quot;, serif" font-size="30" font-weight="normal" font-style="normal" fill="#000" xml:space="preserve">1300</text><text x="0" y="0" transform="matrix(1.13714 0 0 1.02105 2023.649 756.000)" font-family="&quot;Liberation Serif&quot;, serif" font-size="30" font-weight="normal" font-style="normal" fill="#000" xml:space="preserve">1320</text><text x="0" y="0" transform="matrix(1.13023 0 0 0.98214 1777.870 622.307)" font-family="&quot;Liberation Sans&quot;, sans-serif" font-size="30" font-weight="bold" font-style="normal" fill="#000" stroke="#000" stroke-width="0.5" stroke-linejoin="round" xml:space="preserve">(iv)</text><text x="0" y="0" transform="matrix(0 -1.24355 1.14878 0 1597.361 694.944)" font-family="&quot;Liberation Serif&quot;, serif" font-size="30" font-weight="normal" font-style="normal" fill="#801212" xml:space="preserve"><tspan font-style="italic">δp</tspan><tspan font-size="23" dy="9">100</tspan><tspan font-size="23" dx="-34.50" dy="-25">(1)</tspan></text><text x="0" y="0" transform="matrix(0.99955 0 0 0.85610 1803.200 585.795)" font-family="&quot;Liberation Serif&quot;, serif" font-size="30" font-weight="normal" font-style="normal" fill="#801212" xml:space="preserve"><tspan font-style="italic">δp</tspan><tspan font-size="23" dy="9">100</tspan><tspan font-size="23" dx="-34.50" dy="-25">(1)</tspan><tspan dx="7.68" dy="16"> = </tspan><tspan font-style="italic">p</tspan><tspan font-size="23" dy="9">100</tspan><tspan font-size="23" dx="-34.50" dy="-25">(1)</tspan><tspan dx="7.68" dy="16"> − </tspan><tspan font-style="italic">p̄</tspan><tspan font-size="23" dy="9">100</tspan><tspan font-size="23" dx="-34.50" dy="-25">(1)</tspan></text><text x="0" y="0" transform="matrix(0.95962 0 0 0.98214 1866.100 800.607)" font-family="&quot;Liberation Sans&quot;, sans-serif" font-size="30" font-weight="normal" font-style="normal" fill="#000" stroke="#000" stroke-width="0.6" stroke-linejoin="round" xml:space="preserve">Time [s]</text></svg></body></html>
